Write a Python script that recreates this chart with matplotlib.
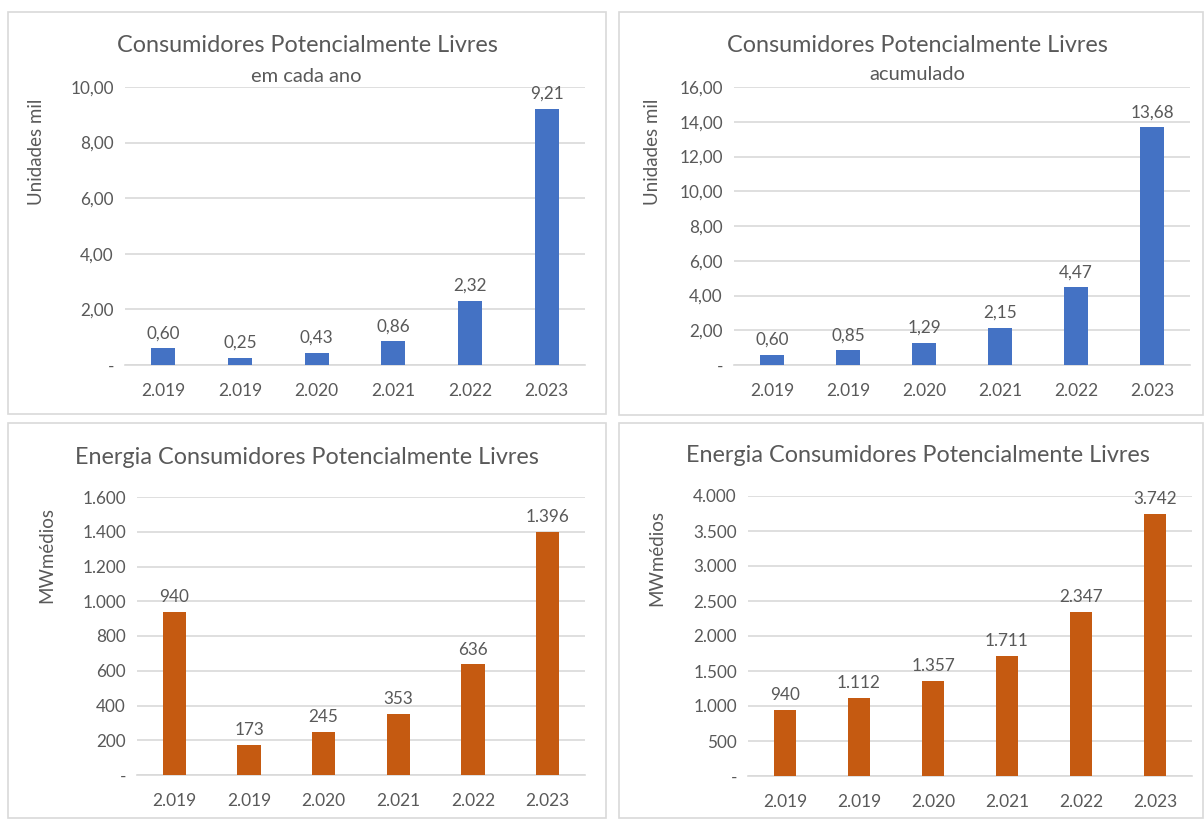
import numpy as np
import matplotlib.pyplot as plt
from matplotlib.patches import Rectangle

plt.rcParams['font.family'] = ['Lato', 'DejaVu Sans']

### donnees ###

anos = ["2.019", "2.019", "2.020", "2.021", "2.022", "2.023"]

cons_ano = [0.60, 0.25, 0.43, 0.86, 2.32, 9.21]      # Unidades mil, em cada ano
cons_acum = [0.60, 0.85, 1.29, 2.15, 4.47, 13.68]    # Unidades mil, acumulado
ener_ano = [940, 173, 245, 353, 636, 1396]           # MWmedios, em cada ano
ener_acum = [940, 1112, 1357, 1711, 2347, 3742]      # MWmedios, acumulado

AZUL = "#4472C4"
LARANJA = "#C55A11"
CINZA = "#595959"
GRADE = "#D9D9D9"

W, H = 1204, 819


def fmt_dec(v):  # 2,32 ou "-" pour zero
    if v == 0:
        return "-"
    return f"{v:.2f}".replace(".", ",")


def fmt_mil(v):  # 1.396 ou "-" pour zero
    if v == 0:
        return "-"
    return f"{v:,.0f}".replace(",", ".")


def painel(ax, valores, cor, ymax, passo, fmt, ylabel, ylab_x, ylab_y):
    x = np.arange(len(anos))
    ax.bar(x, valores, width=0.31, color=cor, zorder=3)
    ax.set_xlim(-0.5, len(anos) - 0.5)
    ax.set_ylim(0, ymax)
    ticks = np.arange(0, ymax + passo / 2, passo)
    ax.set_yticks(ticks)
    ax.set_yticklabels([fmt(t) for t in ticks])
    ax.set_xticks(x)
    ax.set_xticklabels(anos)
    ax.grid(axis='y', color=GRADE, linewidth=1.2, zorder=0)
    for s in ["top", "right", "left"]:
        ax.spines[s].set_visible(False)
    ax.spines["bottom"].set_color(GRADE)
    ax.spines["bottom"].set_linewidth(1.2)
    ax.tick_params(length=0, labelsize=12.3, colors=CINZA, pad=8)
    ax.tick_params(axis='x', pad=13, labelsize=12.5)
    # etiquette de l'axe y placee en haut, comme dans Excel
    ax.set_ylabel(ylabel, fontsize=13.5, color=CINZA)
    ax.yaxis.set_label_coords(ylab_x, ylab_y)
    for xi, v in zip(x, valores):
        ax.text(xi, v + ymax * 0.025, fmt(v), ha='center', va='bottom',
                fontsize=12.3, color=CINZA)


def titulo(xc, yc, texto, tam):  # texte centre sur le cadre, en pixels
    fig.text(xc / W, 1 - yc / H, texto, ha='center', va='center', fontsize=tam, color=CINZA)


fig = plt.figure(figsize=(12.04, 8.19), dpi=100)

# cadres gris autour de chaque graphique (en pixels)
quadros = [(8, 12, 606, 414), (619, 12, 1203, 415), (8, 423, 606, 818), (619, 423, 1203, 818)]
for x0, y0, x1, y1 in quadros:
    fig.patches.append(Rectangle((x0 / W, 1 - y1 / H), (x1 - x0) / W, (y1 - y0) / H,
                                 transform=fig.transFigure, fill=False,
                                 edgecolor="#D9D9D9", linewidth=1.2))

ax1 = fig.add_axes([125 / W, 1 - 365 / H, 460 / W, 278 / H])
ax2 = fig.add_axes([734 / W, 1 - 365 / H, 456 / W, 278 / H])
ax3 = fig.add_axes([137 / W, 1 - 775 / H, 448 / W, 278 / H])
ax4 = fig.add_axes([748 / W, 1 - 776 / H, 444 / W, 280 / H])

painel(ax1, cons_ano, AZUL, 10, 2, fmt_dec, "Unidades mil", (45 - 125) / 460, (365 - 152) / 278)
painel(ax2, cons_acum, AZUL, 16, 2, fmt_dec, "Unidades mil", (661 - 734) / 456, (365 - 152) / 278)
painel(ax3, ener_ano, LARANJA, 1600, 200, fmt_mil, "MWmédios", (55 - 137) / 448, (775 - 555) / 278)
painel(ax4, ener_acum, LARANJA, 4000, 500, fmt_mil, "MWmédios", (665 - 748) / 444, (776 - 558) / 280)

titulo(307, 46, "Consumidores Potencialmente Livres", 16.8)
titulo(306, 76, "em cada ano", 14.5)
titulo(917, 46, "Consumidores Potencialmente Livres", 16.8)
titulo(917, 74, "acumulado", 14.5)
titulo(307, 458, "Energia Consumidores Potencialmente Livres", 16.8)
titulo(918, 456, "Energia Consumidores Potencialmente Livres", 16.8)

fig.savefig("out.png", dpi=100)
